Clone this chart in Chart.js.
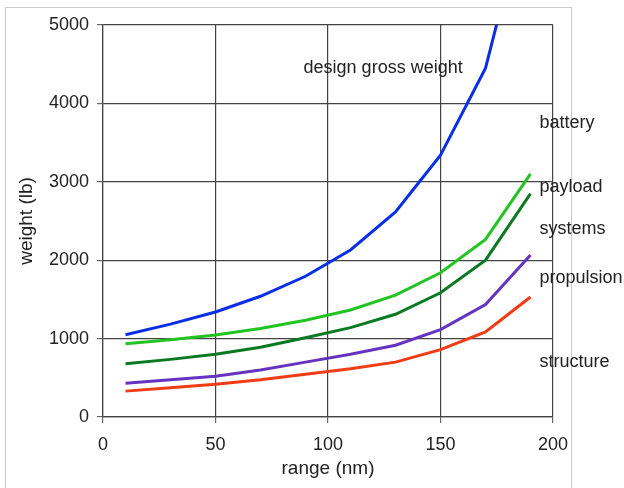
<!DOCTYPE html>
<html lang="en">

<head>
    <meta charset="UTF-8">
    <title>Weight vs range</title>
    <script src="https://cdn.jsdelivr.net/npm/chart.js@4.4.0/dist/chart.umd.min.js"></script>
    <style>
        body { margin: 0; background: #fff; }
        #wrap { width: 624px; height: 488px; }
    </style>
</head>

<body>
    <div id="wrap"><canvas id="myChart"></canvas></div>

    <script>
        // Range values (nm) for each point.
        var ranges = [10, 30, 50, 70, 90, 110, 130, 150, 170, 190];

        // Weight series (lb).
        var grossWeight = [1050, 1185, 1340, 1540, 1795, 2130, 2615, 3340, 4450, 6700];
        var payload = [935, 985, 1045, 1130, 1235, 1365, 1555, 1840, 2265, 3100];
        var systems = [680, 735, 800, 890, 1010, 1140, 1310, 1585, 2000, 2850];
        var propulsion = [430, 475, 520, 600, 700, 800, 915, 1115, 1435, 2065];
        var structure = [330, 372, 418, 475, 545, 615, 700, 860, 1085, 1530];

        // Text labels beside the curves: [text, x (nm), y (lb), align]
        var curveLabels = [
            ["design gross weight", 124.5, 4455, "center"],
            ["battery", 194, 3755, "left"],
            ["payload", 194, 2935, "left"],
            ["systems", 194, 2400, "left"],
            ["propulsion", 194, 1775, "left"],
            ["structure", 194, 705, "left"]
        ];

        var seriesColors = ["#0a2ee6", "#22c422", "#0a7a22", "#6633c0", "#f03c14"];
        var allSeries = [grossWeight, payload, systems, propulsion, structure];

        function toPoints(values) {
            return values.map(function (v, i) {
                return { x: ranges[i], y: v };
            });
        }

        var fontFamily = '"Liberation Sans", Arial, sans-serif';

        // Draws the light frame and the curve labels.
        var labelPlugin = {
            id: "labels",
            beforeDraw: function (chart) {
                var ctx = chart.ctx;
                ctx.save();
                ctx.strokeStyle = "#cccccc";
                ctx.lineWidth = 1;
                ctx.strokeRect(5.5, 7.5, 566, 500);
                ctx.restore();
            },
            afterDatasetsDraw: function (chart) {
                var ctx = chart.ctx;
                var xs = chart.scales.x;
                var ys = chart.scales.y;
                ctx.save();
                ctx.fillStyle = "#222";
                ctx.font = "18px " + fontFamily;
                ctx.textBaseline = "middle";
                curveLabels.forEach(function (l) {
                    ctx.textAlign = l[3];
                    ctx.fillText(l[0], xs.getPixelForValue(l[1]), ys.getPixelForValue(l[2]));
                });
                ctx.restore();
            }
        };

        var gridOpts = {
            color: "#444",
            lineWidth: 1.2,
            tickLength: 6,
            tickColor: "#666"
        };
        var tickFont = { family: fontFamily, size: 18 };
        var titleFont = { family: fontFamily, size: 19 };

        function plainTick(value) {
            return String(value);
        }

        var chart = new Chart(document.getElementById("myChart"), {
            type: "line",
            data: {
                datasets: allSeries.map(function (s, i) {
                    return {
                        data: toPoints(s),
                        borderColor: seriesColors[i],
                        borderWidth: 3,
                        pointRadius: 0,
                        fill: false,
                        tension: 0,
                        clip: 0
                    };
                })
            },
            options: {
                responsive: true,
                maintainAspectRatio: false,
                animation: false,
                layout: { padding: { left: 0, right: 71, top: 25, bottom: 0 } },
                plugins: {
                    legend: { display: false },
                    tooltip: { enabled: false }
                },
                scales: {
                    x: {
                        type: "linear",
                        min: 0,
                        max: 200,
                        ticks: { stepSize: 50, color: "#222", font: tickFont, padding: 11, maxRotation: 0, callback: plainTick },
                        grid: gridOpts,
                        border: { color: "#444", width: 1.2 },
                        title: {
                            display: true,
                            text: "range (nm)",
                            color: "#222",
                            font: titleFont,
                            padding: { top: 0, bottom: 8 }
                        },
                        afterFit: function (scale) { scale.height = 71; }
                    },
                    y: {
                        min: 0,
                        max: 5000,
                        ticks: { stepSize: 1000, color: "#222", font: tickFont, padding: 8, callback: plainTick },
                        grid: gridOpts,
                        border: { color: "#444", width: 1.2 },
                        title: {
                            display: true,
                            text: "weight (lb)",
                            color: "#222",
                            font: titleFont,
                            padding: { top: 15, bottom: 0 }
                        },
                        afterFit: function (scale) { scale.width = 103; }
                    }
                }
            },
            plugins: [labelPlugin]
        });
    </script>
</body>

</html>
